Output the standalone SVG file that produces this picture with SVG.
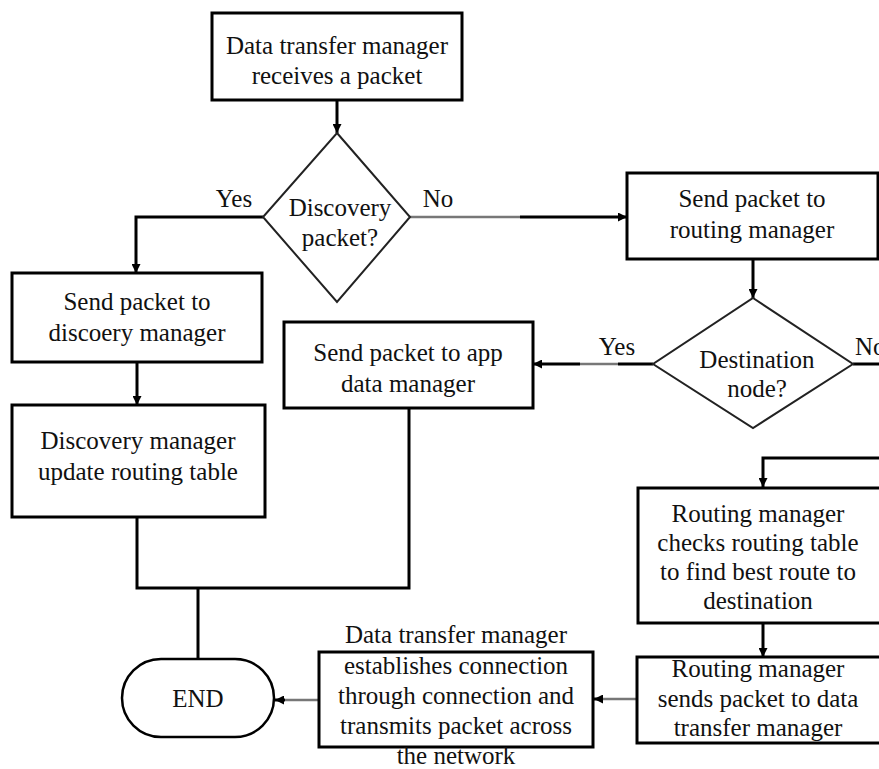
<svg xmlns="http://www.w3.org/2000/svg" width="879" height="769" viewBox="0 0 879 769">
<defs>
<style>
text{font-family:"Liberation Serif","Times New Roman",serif;font-size:25px;fill:#111;text-anchor:middle}
.box{fill:#fff;stroke:#000;stroke-width:3}
.dia{fill:#fff;stroke:#222;stroke-width:2}
.ln{fill:none;stroke:#000;stroke-width:3}
.gl{fill:none;stroke:#777;stroke-width:2.5}
</style>
<marker id="ah" viewBox="0 0 10 10" refX="10" refY="5" markerWidth="9" markerHeight="9" markerUnits="userSpaceOnUse" orient="auto">
<path d="M0,0 L10,5 L0,10 z" fill="#000"/>
</marker>
</defs>
<rect width="879" height="769" fill="#fff"/>

<g id="connectors">
<path class="ln" d="M337,100 V133" marker-end="url(#ah)"/>
<path class="ln" d="M263,217 H136 V273" marker-end="url(#ah)"/>
<path class="gl" d="M410,217 H520"/>
<path class="ln" d="M520,217 H627" marker-end="url(#ah)"/>
<path class="ln" d="M753,259 V298" marker-end="url(#ah)"/>
<path class="ln" d="M653,364 H618"/>
<path class="gl" d="M618,364 H580"/>
<path class="ln" d="M580,364 H533" stroke="#333" marker-end="url(#ah)"/>
<path class="ln" d="M853,364 H879"/>
<path class="ln" d="M137,362 V405" marker-end="url(#ah)"/>
<path class="ln" d="M137,517 V588 H409 V408"/>
<path class="ln" d="M198,588 V659"/>
<path class="ln" d="M879,458 H763 V487" marker-end="url(#ah)"/>
<path class="ln" d="M763,623 V657" marker-end="url(#ah)"/>
<path class="gl" d="M636,699 H600"/>
<path class="ln" d="M600,699 H594" marker-end="url(#ah)"/>
<path class="gl" d="M319,700 H285"/>
<path class="ln" d="M285,700 H275" marker-end="url(#ah)"/>
</g>

<g id="n1">
<rect class="box" x="212" y="13" width="250" height="87" stroke-width="3.5"/>
<text x="337" y="54">Data transfer manager</text>
<text x="337" y="84">receives a packet</text>
</g>

<g id="n2">
<polygon class="dia" points="337,133 410,217 337,302 263,217"/>
<text x="340" y="216">Discovery</text>
<text x="340" y="246">packet?</text>
</g>
<text x="234" y="207">Yes</text>
<text x="438" y="207">No</text>

<g id="n3">
<rect class="box" x="627" y="173" width="251" height="86"/>
<text x="752" y="207">Send packet to</text>
<text x="752" y="238">routing manager</text>
</g>

<g id="n4">
<rect class="box" x="12" y="273" width="250" height="89"/>
<text x="137" y="310">Send packet to</text>
<text x="137" y="341">discoery manager</text>
</g>

<g id="n5">
<polygon class="dia" points="753,298 853,364 753,428 653,364"/>
<text x="757" y="368">Destination</text>
<text x="757" y="397">node?</text>
</g>
<text x="617" y="355">Yes</text>
<text x="855" y="355" style="text-anchor:start">No</text>

<g id="n6">
<rect class="box" x="284" y="322" width="249" height="86"/>
<text x="408" y="361">Send packet to app</text>
<text x="408" y="392">data manager</text>
</g>

<g id="n7">
<rect class="box" x="12" y="405" width="253" height="112"/>
<text x="138" y="449">Discovery manager</text>
<text x="138" y="480">update routing table</text>
</g>

<g id="n8">
<rect class="box" x="638" y="488" width="243" height="135"/>
<text x="758" y="522">Routing manager</text>
<text x="758" y="551">checks routing table</text>
<text x="758" y="580">to find best route to</text>
<text x="758" y="609">destination</text>
</g>

<g id="n9">
<rect class="box" x="637" y="657" width="244" height="86"/>
<text x="758" y="677">Routing manager</text>
<text x="758" y="707">sends packet to data</text>
<text x="758" y="736">transfer manager</text>
</g>

<g id="n10">
<rect class="box" x="319" y="652" width="274" height="95" stroke-width="2.5"/>
<text x="456" y="643">Data transfer manager</text>
<text x="456" y="674">establishes connection</text>
<text x="456" y="704">through connection and</text>
<text x="456" y="734">transmits packet across</text>
<text x="456" y="764">the network</text>
</g>

<g id="n11">
<rect x="122" y="659" width="152" height="78" rx="39" ry="39" fill="#fff" stroke="#000" stroke-width="2.5"/>
<text x="198" y="707">END</text>
</g>
</svg>
